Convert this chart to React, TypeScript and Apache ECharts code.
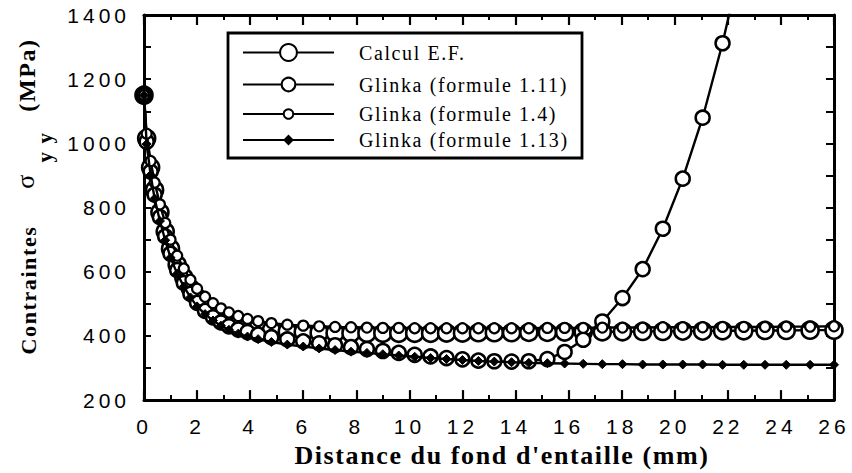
import React, { useEffect, useRef } from 'react';
import * as echarts from 'echarts';

// Distance from the notch root (mm)
const distance = [
  0, 0.1, 0.25, 0.4, 0.6, 0.8, 1.0, 1.25, 1.5, 1.75,
  2.0, 2.3, 2.6, 2.9, 3.2, 3.55, 3.9, 4.3, 4.8, 5.4,
  6.0, 6.6, 7.2, 7.8, 8.4, 9.0, 9.6, 10.2, 10.8, 11.4,
  12.0, 12.6, 13.2, 13.85, 14.5, 15.2, 15.85, 16.55, 17.27, 18.03,
  18.79, 19.55, 20.3, 21.05, 21.8, 22.6, 23.4, 24.2, 25.1, 26.0,
];

// Calcul E.F. (MPa)
const calculEF = [
  1150, 1015, 925, 855, 785, 725, 672, 622, 582, 548,
  520, 496, 476, 460, 448, 438, 430, 424, 418, 414,
  412, 410, 409, 408, 408, 408, 408, 408, 408, 409,
  409, 410, 410, 410, 411, 411, 412, 412, 413, 413,
  414, 414, 415, 415, 416, 416, 417, 417, 418, 418,
];

// Glinka (formule 1.11) (MPa) — leaves the frame after 22 mm
const glinka111 = [
  1150, 1005, 912, 840, 770, 710, 656, 605, 565, 531,
  503, 478, 458, 442, 430, 420, 412, 404, 396, 389,
  383, 377, 371, 365, 359, 353, 347, 341, 336, 331,
  327, 323, 321, 320, 321, 328, 350, 388, 445, 518,
  608, 734, 890, 1080, 1312, 1600,
];

// Glinka (formule 1.4) (MPa)
const glinka14 = [
  1150, 1030, 945, 878, 810, 752, 700, 650, 610, 575,
  547, 522, 502, 486, 473, 462, 453, 446, 440, 435,
  432, 430, 428, 427, 426, 425, 425, 424, 424, 424,
  424, 424, 424, 424, 424, 425, 425, 425, 426, 426,
  426, 427, 427, 427, 428, 428, 428, 429, 429, 430,
];

// Glinka (formule 1.13) (MPa)
const glinka113 = [
  1150, 998, 902, 828, 758, 698, 644, 594, 554, 520,
  492, 468, 448, 432, 419, 407, 398, 390, 381, 373,
  367, 361, 356, 351, 347, 343, 339, 335, 331, 328,
  325, 322, 320, 318, 316, 315, 314, 313, 312, 312,
  311, 311, 311, 311, 310, 310, 310, 310, 310, 310,
];

const seriesNames = [
  'Calcul E.F.',
  'Glinka (formule 1.11)',
  'Glinka (formule 1.4)',
  'Glinka (formule 1.13)',
];

const xTitle = "Distance du fond d'entaille (mm)";
const yTitleParts = ['Contraintes', 'σ', 'y y', '(MPa)'];

const css = `
#root text[style*="Liberation Sans"] { letter-spacing: 4px; }
#root text[style*="Liberation Serif"] { letter-spacing: 1.6px; }
`;

export default function App() {
  const ref = useRef<HTMLDivElement>(null);

  useEffect(() => {
    if (!ref.current) return;
    const chart = echarts.init(ref.current, null, { renderer: 'svg' });
    const pair = (vals: number[]) => vals.map((v, i) => [distance[i], v]);

    const black = '#000';
    const sansLabel = {
      color: black,
      fontSize: 21,
      fontFamily: 'Liberation Sans',
      formatter: (v: number) => String(v),
    };

    const baseAxis = {
      type: 'value' as const,
      axisLine: { show: true, onZero: false, lineStyle: { color: black, width: 3 } },
      splitLine: { show: false },
    };

    const legendRows = [
      { name: seriesNames[0], top: 53, h: 21 },
      { name: seriesNames[1], top: 83, h: 17 },
      { name: seriesNames[2], top: 110, h: 12 },
      { name: seriesNames[3], top: 135, h: 10 },
    ];

    const legends = legendRows.map((r) => ({
      data: [r.name],
      left: 242,
      top: r.top - r.h / 2,
      orient: 'vertical',
      itemWidth: 91,
      itemHeight: r.h,
      selectedMode: false,
      padding: 0,
      textStyle: {
        color: black,
        fontSize: 20,
        fontFamily: 'Liberation Serif',
        padding: [0, 0, 0, 20],
      },
    }));

    const titleFont = (size: number, bold = true) =>
      `${bold ? 'bold ' : ''}${size}px "Liberation Serif"`;

    const option: any = {
      animation: false,
      backgroundColor: '#fff',
      grid: { left: 144, right: 18, top: 15, bottom: 68, containLabel: false },
      legend: legends,
      xAxis: [
        {
          ...baseAxis,
          min: 0,
          max: 26,
          interval: 2,
          position: 'bottom',
          axisTick: { show: true, inside: true, length: 10, lineStyle: { color: black, width: 2.2 } },
          minorTick: { show: true, splitNumber: 2, length: 5, lineStyle: { color: black, width: 2 } },
          axisLabel: { ...sansLabel, margin: 16 },
          name: xTitle,
          nameLocation: 'middle',
          nameGap: 40,
          nameTextStyle: {
            color: black,
            fontSize: 26,
            fontWeight: 'bold',
            fontFamily: 'Liberation Serif',
            padding: [0, 0, 0, 26],
          },
        },
        {
          ...baseAxis,
          min: 0,
          max: 26,
          interval: 2,
          position: 'top',
          axisTick: { show: true, inside: true, length: 10, lineStyle: { color: black, width: 2.2 } },
          minorTick: { show: true, splitNumber: 2, length: 5, lineStyle: { color: black, width: 2 } },
          axisLabel: { show: false },
        },
      ],
      yAxis: [
        {
          ...baseAxis,
          min: 200,
          max: 1400,
          interval: 200,
          position: 'left',
          axisTick: { show: true, inside: true, length: 7, lineStyle: { color: black, width: 2 } },
          minorTick: { show: true, splitNumber: 2, length: 7, lineStyle: { color: black, width: 2 } },
          axisLabel: { ...sansLabel, margin: 14 },
        },
        {
          ...baseAxis,
          min: 200,
          max: 1400,
          interval: 200,
          position: 'right',
          axisTick: { show: true, inside: true, length: 8, lineStyle: { color: black, width: 2 } },
          minorTick: { show: true, splitNumber: 2, length: 8, lineStyle: { color: black, width: 2 } },
          axisLabel: { show: false },
        },
      ],
      graphic: [
        {
          type: 'rect',
          shape: { x: 228, y: 33, width: 354, height: 125 },
          style: { fill: 'none', stroke: black, lineWidth: 2.8 },
          silent: true,
        },
        {
          type: 'text',
          x: 28,
          y: 290,
          rotation: Math.PI / 2,
          style: {
            text: yTitleParts[0],
            fill: black,
            font: titleFont(22),
            align: 'center',
            verticalAlign: 'middle',
          },
        },
        {
          type: 'text',
          x: 25,
          y: 181,
          rotation: Math.PI / 2,
          style: {
            text: yTitleParts[1],
            fill: black,
            font: titleFont(26, false),
            align: 'center',
            verticalAlign: 'middle',
          },
        },
        {
          type: 'text',
          x: 45,
          y: 147,
          rotation: Math.PI / 2,
          style: {
            text: yTitleParts[2],
            fill: black,
            font: titleFont(21),
            align: 'center',
            verticalAlign: 'middle',
          },
        },
        {
          type: 'text',
          x: 27,
          y: 75,
          rotation: Math.PI / 2,
          style: {
            text: yTitleParts[3],
            fill: black,
            font: titleFont(24),
            align: 'center',
            verticalAlign: 'middle',
          },
        },
      ],
      series: [
        {
          name: seriesNames[0],
          type: 'line',
          data: pair(calculEF),
          symbol: 'circle',
          symbolSize: 17,
          itemStyle: { color: '#fff', borderColor: black, borderWidth: 2.6 },
          lineStyle: { color: black, width: 2.4 },
          z: 2,
        },
        {
          name: seriesNames[1],
          type: 'line',
          data: pair(glinka111),
          symbol: 'circle',
          symbolSize: 14,
          itemStyle: { color: '#fff', borderColor: black, borderWidth: 2.5 },
          lineStyle: { color: black, width: 2.4 },
          z: 3,
        },
        {
          name: seriesNames[2],
          type: 'line',
          data: pair(glinka14),
          symbol: 'circle',
          symbolSize: 10,
          itemStyle: { color: '#fff', borderColor: black, borderWidth: 2.2 },
          lineStyle: { color: black, width: 2.4 },
          z: 4,
        },
        {
          name: seriesNames[3],
          type: 'line',
          data: pair(glinka113),
          symbol: 'diamond',
          symbolSize: 9,
          itemStyle: { color: black, borderColor: black, borderWidth: 1 },
          lineStyle: { color: black, width: 2.4 },
          z: 5,
        },
      ],
    };

    chart.setOption(option);
    return () => chart.dispose();
  }, []);

  return (
    <>
      <style>{css}</style>
      <div
        ref={ref}
        style={{ position: 'fixed', left: 0, top: 0, width: 852, height: 473, background: '#fff' }}
      />
    </>
  );
}
